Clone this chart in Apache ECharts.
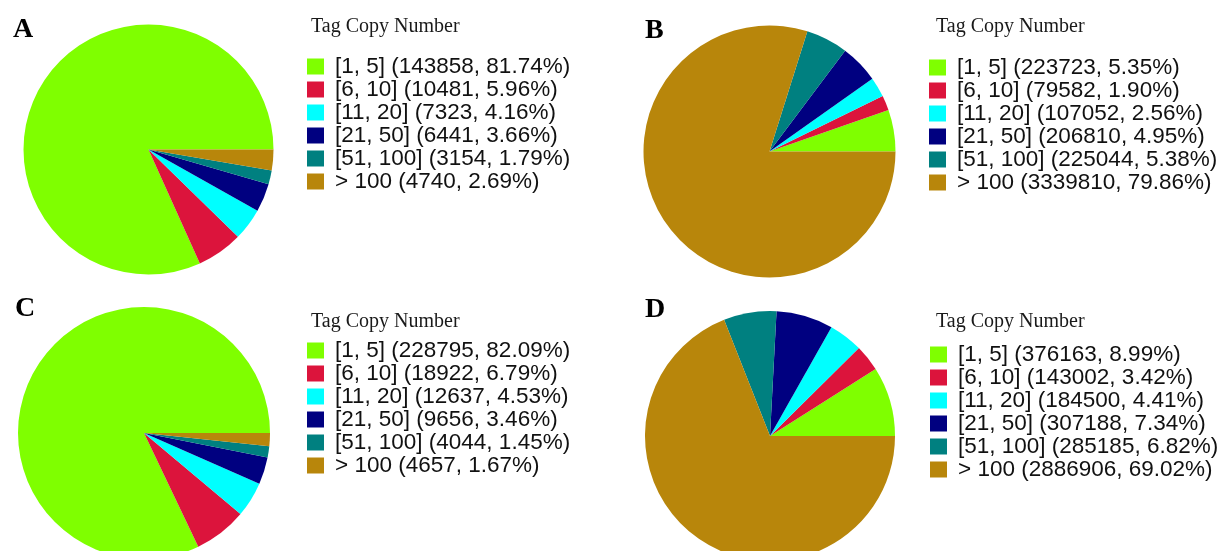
<!DOCTYPE html>
<html>
<head>
<meta charset="utf-8">
<script src="https://cdn.jsdelivr.net/npm/echarts@6/dist/echarts.min.js"></script>
<style>
  html, body { margin: 0; padding: 0; background: #ffffff; }
  #chart { width: 1224px; height: 551px; }
</style>
</head>
<body>
<div id="chart"></div>
<script>
// Tag copy number classes shared by all four libraries
const categories = ['[1, 5]', '[6, 10]', '[11, 20]', '[21, 50]', '[51, 100]', '> 100'];
const sliceColors = ['#7fff00', '#dc143c', '#00ffff', '#000080', '#008080', '#b8860b'];

// Tag counts per class
const countsA = [143858, 10481, 7323, 6441, 3154, 4740];
const countsB = [223723, 79582, 107052, 206810, 225044, 3339810];
const countsC = [228795, 18922, 12637, 9656, 4044, 4657];
const countsD = [376163, 143002, 184500, 307188, 285185, 2886906];

const panelLabels = ['A', 'B', 'C', 'D'];
const legendTitle = 'Tag Copy Number';

// Layout of each panel: pie centre/radius, letter, legend title and legend box
const panels = [
  { counts: countsA, center: [148.5, 149.5], radius: 125, letter: [13, 16],  title: [311, 17],  legend: [307, 55] },
  { counts: countsB, center: [769.5, 151.5], radius: 126, letter: [645, 17], title: [936, 17],  legend: [929, 56] },
  { counts: countsC, center: [144, 433],     radius: 126, letter: [15, 295], title: [311, 312], legend: [307, 339] },
  { counts: countsD, center: [770, 436],     radius: 125, letter: [645, 296], title: [936, 312], legend: [930, 343] }
];

const serif = '"Liberation Serif", "DejaVu Serif", serif';
const sans = '"Liberation Sans", Arial, sans-serif';

const titles = [];
const legends = [];
const series = [];

panels.forEach((p, i) => {
  const total = p.counts.reduce((s, v) => s + v, 0);
  titles.push({
    text: panelLabels[i], left: p.letter[0], top: p.letter[1], padding: 0,
    textStyle: { fontFamily: serif, fontWeight: 'bold', fontSize: 28, color: '#000' }
  });
  titles.push({
    text: legendTitle, left: p.title[0], top: p.title[1], padding: 0,
    textStyle: { fontFamily: serif, fontWeight: 'normal', fontSize: 20, color: '#1a1a1a' }
  });
  legends.push({
    orient: 'vertical',
    left: p.legend[0], top: p.legend[1], padding: 0,
    data: categories,
    icon: 'rect',
    itemWidth: 17, itemHeight: 16, itemGap: 0,
    selectedMode: false,
    formatter: name => {
      const k = categories.indexOf(name);
      const v = p.counts[k];
      return name + ' (' + v + ', ' + (v / total * 100).toFixed(2) + '%)';
    },
    textStyle: { fontFamily: sans, fontSize: 22.5, lineHeight: 22, color: '#111', padding: [0, 0, 0, 6] }
  });
  series.push({
    type: 'pie',
    center: p.center,
    radius: p.radius,
    startAngle: 0,
    clockwise: false,
    avoidLabelOverlap: false,
    label: { show: false },
    labelLine: { show: false },
    emphasis: { disabled: true },
    itemStyle: { borderWidth: 0 },
    data: categories.map((c, k) => ({ name: c, value: p.counts[k] }))
  });
});

const chart = echarts.init(document.getElementById('chart'), null, { renderer: 'canvas' });
chart.setOption({
  animation: false,
  backgroundColor: '#ffffff',
  color: sliceColors,
  title: titles,
  legend: legends,
  series: series
});
</script>
</body>
</html>
